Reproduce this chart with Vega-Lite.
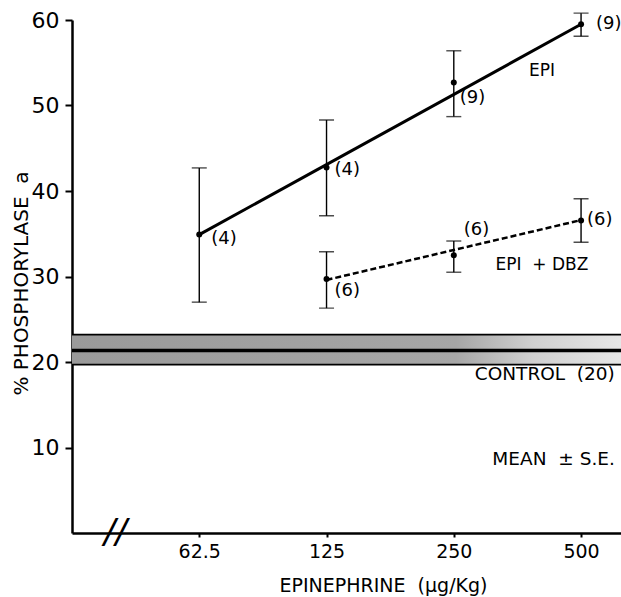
{
  "$schema": "https://vega.github.io/schema/vega-lite/v6.json",
  "width": 549,
  "height": 513,
  "autosize": {"type": "none"},
  "padding": {"left": 72, "top": 20, "right": 0, "bottom": 64},
  "background": "white",
  "config": {
    "view": {"stroke": null},
    "font": "DejaVu Sans",
    "text": {"font": "DejaVu Sans", "color": "black"},
    "axis": {"domainColor": "black", "tickColor": "black", "labelColor": "black", "titleColor": "black", "grid": false, "labelFont": "DejaVu Sans", "titleFont": "DejaVu Sans", "titleFontWeight": "normal"}
  },
  "datasets": {
    "pts": [
      {"series": "EPI", "dose": 62.5, "mean": 34.9, "lo": 27.0, "hi": 42.7, "n": "(4)"},
      {"series": "EPI", "dose": 125, "mean": 42.75, "lo": 37.1, "hi": 48.3, "n": "(4)"},
      {"series": "EPI", "dose": 250, "mean": 52.7, "lo": 48.7, "hi": 56.4, "n": "(9)"},
      {"series": "EPI", "dose": 500, "mean": 59.5, "lo": 58.1, "hi": 60.8, "n": "(9)"},
      {"series": "EPI + DBZ", "dose": 125, "mean": 29.7, "lo": 26.3, "hi": 32.9, "n": "(6)"},
      {"series": "EPI + DBZ", "dose": 250, "mean": 32.5, "lo": 30.5, "hi": 34.15, "n": "(6)"},
      {"series": "EPI + DBZ", "dose": 500, "mean": 36.55, "lo": 34.0, "hi": 39.1, "n": "(6)"}
    ],
    "fit": [
      {"series": "EPI", "dose": 62.5, "value": 34.9},
      {"series": "EPI", "dose": 500, "value": 59.5},
      {"series": "EPI + DBZ", "dose": 125, "value": 29.6},
      {"series": "EPI + DBZ", "dose": 500, "value": 36.6}
    ],
    "control": [
      {"lo": 19.7, "mid": 21.35, "hi": 23.2}
    ],
    "notes": [
      {"label": "EPI", "dose": 404, "value": 54.0},
      {"label": "EPI\u00a0\u00a0+ DBZ", "dose": 404, "value": 31.4}
    ],
    "notesRight": [
      {"label": "CONTROL\u00a0\u00a0(20)", "dose": 601, "value": 18.6},
      {"label": "MEAN\u00a0\u00a0± S.E.", "dose": 601, "value": 8.6}
    ],
    "brk": [
      {"label": "//", "dose": 39.6, "value": 0}
    ]
  },
  "layer": [
    {
      "data": {"name": "control"},
      "mark": {"type": "rect", "color": {"gradient": "linear", "x1": 0, "x2": 1, "y1": 0, "y2": 0, "stops": [{"offset": 0, "color": "#9a9a9a"}, {"offset": 0.7, "color": "#a6a6a6"}, {"offset": 0.84, "color": "#d0d0d0"}, {"offset": 1, "color": "#e6e6e6"}]}},
      "encoding": {
        "x": {"datum": 31.25, "type": "quantitative", "scale": {"type": "log", "base": 2, "domain": [31.25, 621.5], "nice": false},
          "axis": {"values": [62.5, 125, 250, 500], "labelExpr": "'' + datum.value", "tickSize": 4, "tickWidth": 2, "domainWidth": 2.5, "labelFontSize": 19, "labelPadding": 5, "title": "EPINEPHRINE\u00a0\u00a0(µg/Kg)", "titleFontSize": 19, "titleX": 311, "titleY": 58, "titleAnchor": null, "titleAlign": "center", "titleBaseline": "alphabetic"}},
        "x2": {"datum": 621.5},
        "y": {"field": "hi", "type": "quantitative", "scale": {"domain": [0, 60], "nice": false},
          "axis": {"values": [10, 20, 30, 40, 50, 60], "tickSize": 7, "tickWidth": 2, "domainWidth": 2.5, "labelFontSize": 22, "labelPadding": 6, "title": "% PHOSPHORYLASE\u00a0\u00a0a", "titleFontSize": 20, "titleAngle": -90, "titleX": -51, "titleY": 263, "titleAlign": "center", "titleBaseline": "middle", "titleAnchor": null}},
        "y2": {"field": "lo"}
      }
    },
    {
      "data": {"name": "control"},
      "mark": {"type": "rule", "color": "black", "strokeWidth": 1.8},
      "encoding": {"y": {"field": "hi", "type": "quantitative"}}
    },
    {
      "data": {"name": "control"},
      "mark": {"type": "rule", "color": "black", "strokeWidth": 1.8},
      "encoding": {"y": {"field": "lo", "type": "quantitative"}}
    },
    {
      "data": {"name": "control"},
      "mark": {"type": "rule", "color": "black", "strokeWidth": 3.5},
      "encoding": {"y": {"field": "mid", "type": "quantitative"}}
    },
    {
      "data": {"name": "pts"},
      "mark": {"type": "rule", "color": "black", "strokeWidth": 1.4},
      "encoding": {
        "x": {"field": "dose", "type": "quantitative"},
        "y": {"field": "lo", "type": "quantitative"},
        "y2": {"field": "hi"}
      }
    },
    {
      "data": {"name": "pts"},
      "mark": {"type": "tick", "orient": "horizontal", "color": "black", "size": 15, "thickness": 1.4},
      "encoding": {
        "x": {"field": "dose", "type": "quantitative"},
        "y": {"field": "lo", "type": "quantitative"}
      }
    },
    {
      "data": {"name": "pts"},
      "mark": {"type": "tick", "orient": "horizontal", "color": "black", "size": 15, "thickness": 1.4},
      "encoding": {
        "x": {"field": "dose", "type": "quantitative"},
        "y": {"field": "hi", "type": "quantitative"}
      }
    },
    {
      "data": {"name": "fit"},
      "transform": [{"filter": "datum.series == 'EPI'"}],
      "mark": {"type": "line", "color": "black", "strokeWidth": 3},
      "encoding": {
        "x": {"field": "dose", "type": "quantitative"},
        "y": {"field": "value", "type": "quantitative"}
      }
    },
    {
      "data": {"name": "fit"},
      "transform": [{"filter": "datum.series == 'EPI + DBZ'"}],
      "mark": {"type": "line", "color": "black", "strokeWidth": 2.5, "strokeDash": [6, 3]},
      "encoding": {
        "x": {"field": "dose", "type": "quantitative"},
        "y": {"field": "value", "type": "quantitative"}
      }
    },
    {
      "data": {"name": "pts"},
      "mark": {"type": "circle", "color": "black", "opacity": 1, "size": 36},
      "encoding": {
        "x": {"field": "dose", "type": "quantitative"},
        "y": {"field": "mean", "type": "quantitative"}
      }
    },
    {
      "data": {"name": "pts"},
      "transform": [{"filter": "datum.series == 'EPI' && datum.dose == 62.5"}],
      "mark": {"type": "text", "align": "left", "baseline": "middle", "fontSize": 18, "dx": 12, "dy": 4},
      "encoding": {"x": {"field": "dose", "type": "quantitative"}, "y": {"field": "mean", "type": "quantitative"}, "text": {"field": "n"}}
    },
    {
      "data": {"name": "pts"},
      "transform": [{"filter": "datum.series == 'EPI' && datum.dose == 125"}],
      "mark": {"type": "text", "align": "left", "baseline": "middle", "fontSize": 18, "dx": 8, "dy": 3},
      "encoding": {"x": {"field": "dose", "type": "quantitative"}, "y": {"field": "mean", "type": "quantitative"}, "text": {"field": "n"}}
    },
    {
      "data": {"name": "pts"},
      "transform": [{"filter": "datum.series == 'EPI' && datum.dose == 250"}],
      "mark": {"type": "text", "align": "left", "baseline": "middle", "fontSize": 18, "dx": 6, "dy": 16},
      "encoding": {"x": {"field": "dose", "type": "quantitative"}, "y": {"field": "mean", "type": "quantitative"}, "text": {"field": "n"}}
    },
    {
      "data": {"name": "pts"},
      "transform": [{"filter": "datum.series == 'EPI' && datum.dose == 500"}],
      "mark": {"type": "text", "align": "left", "baseline": "middle", "fontSize": 18, "dx": 15, "dy": 0},
      "encoding": {"x": {"field": "dose", "type": "quantitative"}, "y": {"field": "mean", "type": "quantitative"}, "text": {"field": "n"}}
    },
    {
      "data": {"name": "pts"},
      "transform": [{"filter": "datum.series == 'EPI + DBZ' && datum.dose == 125"}],
      "mark": {"type": "text", "align": "left", "baseline": "middle", "fontSize": 18, "dx": 8, "dy": 12},
      "encoding": {"x": {"field": "dose", "type": "quantitative"}, "y": {"field": "mean", "type": "quantitative"}, "text": {"field": "n"}}
    },
    {
      "data": {"name": "pts"},
      "transform": [{"filter": "datum.series == 'EPI + DBZ' && datum.dose == 250"}],
      "mark": {"type": "text", "align": "left", "baseline": "middle", "fontSize": 18, "dx": 10, "dy": -25},
      "encoding": {"x": {"field": "dose", "type": "quantitative"}, "y": {"field": "mean", "type": "quantitative"}, "text": {"field": "n"}}
    },
    {
      "data": {"name": "pts"},
      "transform": [{"filter": "datum.series == 'EPI + DBZ' && datum.dose == 500"}],
      "mark": {"type": "text", "align": "left", "baseline": "middle", "fontSize": 18, "dx": 6, "dy": 0},
      "encoding": {"x": {"field": "dose", "type": "quantitative"}, "y": {"field": "mean", "type": "quantitative"}, "text": {"field": "n"}}
    },
    {
      "data": {"name": "notes"},
      "mark": {"type": "text", "align": "center", "baseline": "middle", "fontSize": 17},
      "encoding": {"x": {"field": "dose", "type": "quantitative"}, "y": {"field": "value", "type": "quantitative"}, "text": {"field": "label"}}
    },
    {
      "data": {"name": "notesRight"},
      "mark": {"type": "text", "align": "right", "baseline": "middle", "fontSize": 18.5},
      "encoding": {"x": {"field": "dose", "type": "quantitative"}, "y": {"field": "value", "type": "quantitative"}, "text": {"field": "label"}}
    },
    {
      "data": {"name": "brk"},
      "mark": {"type": "text", "align": "center", "baseline": "middle", "fontSize": 34, "fontStyle": "italic"},
      "encoding": {"x": {"field": "dose", "type": "quantitative"}, "y": {"field": "value", "type": "quantitative"}, "text": {"field": "label"}}
    }
  ]
}
